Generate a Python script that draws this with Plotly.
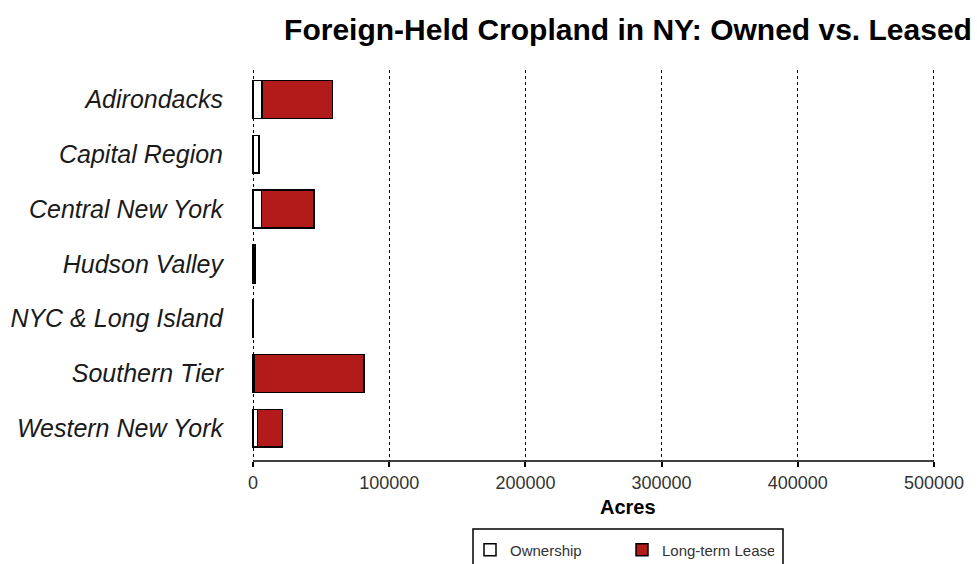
import plotly.graph_objects as go

regions = ["Adirondacks", "Capital Region", "Central New York", "Hudson Valley",
           "NYC & Long Island", "Southern Tier", "Western New York"]
ownership = [6400, 4000, 6100, 700, 300, 1200, 3100]
lease = [51900, 900, 38700, 800, 200, 80300, 18700]
x_ticks = [0, 100000, 200000, 300000, 400000, 500000]
x_tick_text = ["0", "100000", "200000", "300000", "400000", "500000"]

# pixel geometry helpers
W, H = 977, 564
L, R, T, B = 251, 936, 70, 461
def px(x):
    return (x - L) / (R - L)
def py(y):
    return (B - y) / (B - T)

fig = go.Figure()
fig.add_trace(go.Bar(
    y=regions, x=ownership, name="Ownership", orientation="h",
    marker=dict(color="white", line=dict(color="black", width=1.5)),
    width=0.69,
))
fig.add_trace(go.Bar(
    y=regions, x=lease, name="Long-term Lease", orientation="h",
    marker=dict(color="#B31B1B", line=dict(color="black", width=1.5)),
    width=0.69,
))

fig.update_layout(
    width=W, height=H,
    barmode="stack",
    plot_bgcolor="white", paper_bgcolor="white",
    margin=dict(l=L, r=W - R, t=T, b=H - B, pad=0, autoexpand=False),
    font=dict(family="Liberation Sans, Arial, sans-serif", color="#222"),
    title=dict(
        text="<b>Foreign-Held Cropland in NY: Owned vs. Leased</b>",
        font=dict(size=30, color="black"),
        x=px(628), xref="paper", xanchor="center",
        y=1 - 29 / H, yref="container", yanchor="middle",
    ),
    xaxis=dict(
        range=[-1500, 501500],
        tickvals=x_ticks, ticktext=x_tick_text,
        showline=False,
        ticks="outside", ticklen=5, tickcolor="black", tickwidth=1.5,
        tickfont=dict(size=18, color="#333"),
        showgrid=True, gridcolor="black", gridwidth=1, griddash="dot",
        zeroline=False, automargin=False,
    ),
    yaxis=dict(
        type="category",
        categoryorder="array", categoryarray=regions,
        range=[6.6, -0.54],
        showgrid=False, showline=False, zeroline=False,
        ticks="outside", ticklen=22, tickcolor="rgba(0,0,0,0)",
        tickfont=dict(size=25, color="#1a1a1a", style="italic"),
        automargin=False,
    ),
    showlegend=True,
    legend=dict(
        orientation="h",
        x=px(470), xanchor="left", xref="paper",
        y=py(550), yanchor="middle", yref="paper",
        bgcolor="rgba(0,0,0,0)", borderwidth=0,
        font=dict(size=15, color="#333"),
        entrywidth=107, entrywidthmode="pixels",
        traceorder="normal",
    ),
    annotations=[dict(
        text="<b>Acres</b>", x=px(628), y=py(507), xref="paper", yref="paper",
        xanchor="center", yanchor="middle", showarrow=False,
        font=dict(size=20, color="black"),
    )],
    shapes=[
        # x axis line drawn only between the first and last ticks
        dict(type="line", xref="x", yref="paper",
             x0=x_ticks[0], x1=x_ticks[-1], y0=0, y1=0,
             line=dict(color="black", width=1.5), layer="above"),
        # legend frame
        dict(type="rect", xref="paper", yref="paper",
             x0=px(473), x1=px(783), y0=py(529), y1=py(580),
             line=dict(color="black", width=1.5), fillcolor="rgba(0,0,0,0)",
             layer="above"),
    ],
)

fig.write_html(
    "out.html",
    config={"displayModeBar": False},
    post_script="document.body.style.margin='0';document.body.style.overflow='hidden';",
)
